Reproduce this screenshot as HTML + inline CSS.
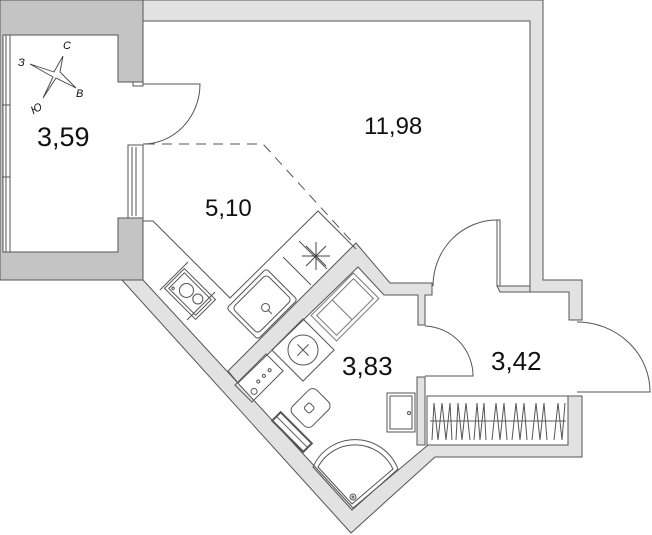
<!DOCTYPE html>
<html><head><meta charset="utf-8"><style>
html,body{margin:0;padding:0;background:#fff;}
svg{display:block}
text{font-family:"Liberation Sans",sans-serif;fill:#111}
</style></head><body>
<svg width="652" height="535" viewBox="0 0 652 535" xmlns="http://www.w3.org/2000/svg">
<g stroke="#555" stroke-width="1" fill="none">
<path d="M0,0 H143 V82 H118 V35 H10 V252 H118 V218 H143 V280 H0 Z" fill="#c4c4c4"/>
<rect x="3" y="35" width="7" height="217" fill="#fff"/>
<line x1="6" y1="35" x2="6" y2="252"/>
<line x1="2" y1="105" x2="10" y2="105"/><line x1="2" y1="177" x2="10" y2="177"/>
<path d="M143,0 H543 V280 H582 V320 H569 V292 H530 V21 H143 Z" fill="#e2e2e2"/>
<rect x="128" y="145" width="15" height="73" fill="#fff"/>
<line x1="132" y1="147" x2="132" y2="216"/><line x1="136" y1="147" x2="136" y2="216"/>
<rect x="133" y="82" width="10" height="4" fill="#fff"/>
<path d="M143,84 H200 A57,60 0 0 1 143,144" />
<!-- outer diagonal + bottom wall -->
<path d="M122,280 H143 L353,508 L428,445 H568 V396 H582 V457 H435 L351,533 Z" fill="#e2e2e2"/>
<path d="M417,377 H425 V445 H417 Z" fill="#e2e2e2"/>
<path d="M228,371 L356,243 L390,283 H432 V295 H425 V325 H418 V295 H384 L358,267 L238,383 Z" fill="#e2e2e2"/>
<path d="M497,286 H530 V292 H500 Z" fill="#e2e2e2"/>
<path d="M145,144 H263 L355,245" stroke-dasharray="10,7"/>
<rect x="497" y="220" width="3" height="66" fill="#fff"/>
<path d="M497,220 A64,66 0 0 0 433,286"/>
<path d="M425,326 A50,50 0 0 1 473,376 H425"/>
<path d="M577,322 A73,70 0 0 1 650,392 H577"/>
<path d="M143,221 H153 L230,298 L318,211 L356,249"/>
<path d="M188,262 L160,290 M215,292 L187,320"/>
<g transform="translate(190,294) rotate(45)"><rect x="-22" y="-14" width="44" height="28"/><rect x="-19" y="-11" width="38" height="22"/><circle cx="-5" cy="0" r="7"/><circle cx="9" cy="-2" r="5"/><circle cx="-16" cy="8" r="1.2"/></g>
<g transform="translate(262,304) rotate(-45)"><rect x="-28" y="-22" width="56" height="44" rx="3"/><rect x="-24" y="-18" width="48" height="36" rx="4"/><circle cx="0" cy="5" r="4"/><line x1="0" y1="8" x2="0" y2="14"/></g>
<path d="M283,257 L311,285 M299,241 L327,269"/>
<g transform="translate(316,256)" stroke="#444"><line x1="-14" y1="0" x2="14" y2="0"/><line x1="0" y1="-14" x2="0" y2="14"/><line x1="-10" y1="-10" x2="10" y2="10"/><line x1="-10" y1="10" x2="10" y2="-10"/></g>
<g transform="translate(345,307) rotate(-45)" stroke="#777"><rect x="-30" y="-18" width="60" height="36"/><rect x="-26" y="-14" width="52" height="28"/><line x1="-4" y1="-14" x2="-4" y2="14"/></g>
<g transform="translate(303,350) rotate(-45)"><rect x="-22" y="-22" width="44" height="44"/><circle r="15"/><line x1="-8" y1="0" x2="8" y2="0"/><line x1="0" y1="-8" x2="0" y2="8"/></g>
<g transform="translate(259,378) rotate(-45)"><rect x="-22" y="-12" width="44" height="24"/><circle cx="-13" cy="6" r="3"/><circle cx="-3" cy="2" r="1.5"/><circle cx="5" cy="2" r="1.5"/><circle cx="13" cy="2" r="1.5"/></g>
<g transform="translate(312,408) rotate(-45)"><rect x="-18" y="-15" width="34" height="28" rx="6"/><rect x="-6" y="-6" width="8" height="8" rx="2"/></g>
<g transform="translate(292,432) rotate(45)"><rect x="-22" y="-6" width="44" height="12" stroke-width="2"/><line x1="-22" y1="0" x2="22" y2="0"/></g>
<path d="M313,467 L352,510 L398,469 A46,46 0 0 0 313,467 Z"/>
<path d="M318,467 L352,504 L393,469 A42,42 0 0 0 318,467 Z"/>
<circle cx="353" cy="497" r="3"/><circle cx="353" cy="497" r="1"/>
<rect x="387" y="393" width="28" height="39"/><rect x="390" y="396" width="22" height="33"/><circle cx="409" cy="413" r="1.5"/>
<rect x="427" y="396" width="141" height="49" fill="#fff"/>
<line x1="430" y1="421" x2="566" y2="421"/>
<path d="M432,440 L434,403 L438,440 L442,403 L446,440 L450,403 L452,440 M456,440 L458,403 L462,440 L466,403 L470,440 M474,440 L477,403 L480,440 L484,403 L486,440 M492,440 L496,403 L500,440 L504,403 L507,440 M512,440 L516,403 L520,440 L524,403 L527,440 M532,440 L536,403 L540,440 L544,403 L547,440 M554,440 L558,403 L562,440 L565,403"/>
<path d="M63,56 L60,72 L76,88 L56,78 L43,98 L53,77 L30,64 L54,72 Z" stroke="#444" stroke-width="0.9" fill="#fff"/>
</g>
<g font-size="11" font-style="italic" fill="#555"><text x="63" y="49">С</text><text x="18" y="66">З</text><text x="76" y="97">В</text><text x="30" y="112" transform="rotate(-30 36 107)">Ю</text></g>
<g font-size="26"><text x="37" y="146" font-size="27">3,59</text><text x="342" y="375">3,83</text><text x="491" y="370">3,42</text></g>
<g font-size="24"><text x="364" y="134">11,98</text><text x="205" y="216">5,10</text></g>
</svg>
</body></html>
